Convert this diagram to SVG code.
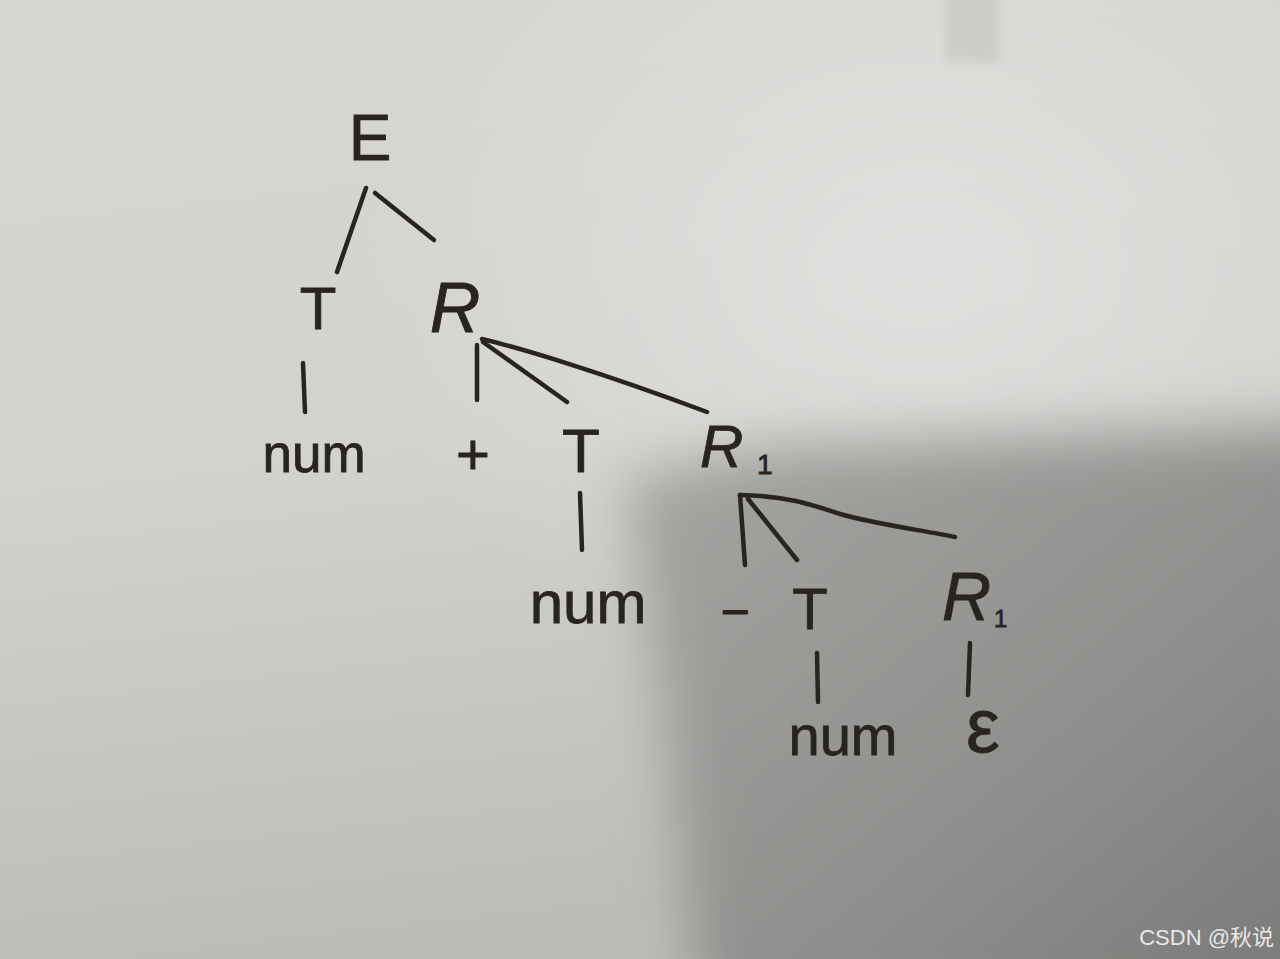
<svg xmlns="http://www.w3.org/2000/svg" width="1280" height="959" viewBox="0 0 1280 959">
<defs>
<style>
.ink{fill:#2a2420;stroke:#2a2420;stroke-width:0.8;font-family:"Liberation Sans",Arial,sans-serif}
.it{font-style:italic}
.edge{stroke:#2a2420;stroke-width:4.5;stroke-linecap:round;fill:none}
.wm{fill:#e8e8e8;font-family:"Liberation Sans","Noto Sans CJK SC",sans-serif;font-size:22px}
</style>
<linearGradient id="bg" x1="0" y1="0" x2="0.15" y2="1">
<stop offset="0" stop-color="#d6d6d3"/>
<stop offset="0.5" stop-color="#d2d2cf"/>
<stop offset="1" stop-color="#bcbcb9"/>
</linearGradient>
<radialGradient id="hl" cx="0.72" cy="0.28" r="0.45">
<stop offset="0" stop-color="#ffffff" stop-opacity="0.3"/>
<stop offset="1" stop-color="#ffffff" stop-opacity="0"/>
</radialGradient>
<linearGradient id="sh" x1="0" y1="0" x2="1" y2="1">
<stop offset="0" stop-color="#a6a6a3"/>
<stop offset="0.6" stop-color="#8e8e8c"/>
<stop offset="1" stop-color="#767675"/>
</linearGradient>
<filter id="blur" x="-20%" y="-20%" width="140%" height="140%"><feGaussianBlur stdDeviation="28"/></filter>
<filter id="blur2"><feGaussianBlur stdDeviation="4"/></filter>
</defs>
<g id="background">
<rect width="1280" height="959" fill="url(#bg)"/>
<rect width="1280" height="959" fill="url(#hl)"/>
<polygon points="625,480 760,448 1340,425 1340,1020 700,1020 665,720" fill="url(#sh)" filter="url(#blur)"/>
<rect x="945" y="-5" width="55" height="67" fill="#bdbdba" opacity="0.45" filter="url(#blur2)"/>
</g>
<g id="connectors">
<line class="edge" x1="366" y1="188" x2="337" y2="272"/>
<line class="edge" x1="375" y1="193" x2="434" y2="240"/>
<line class="edge" x1="303" y1="363" x2="305" y2="412"/>
<line class="edge" x1="477" y1="345" x2="477" y2="400"/>
<line class="edge" x1="483" y1="342" x2="567" y2="402"/>
<path class="edge" d="M482 339 C520 348 600 372 707 412"/>
<line class="edge" x1="580" y1="493" x2="582" y2="550"/>
<line class="edge" x1="740" y1="495" x2="745" y2="565"/>
<line class="edge" x1="748" y1="499" x2="797" y2="560"/>
<path class="edge" d="M740 495 C790 496 815 506 840 514 C870 523 920 530 955 537"/>
<line class="edge" x1="817" y1="653" x2="818" y2="702"/>
<line class="edge" x1="970" y1="643" x2="968" y2="695"/>
</g>
<g id="node-E"><text class="ink" x="370" y="160" font-size="64" text-anchor="middle">E</text></g>
<g id="node-T1"><text class="ink" x="318" y="329" font-size="60" text-anchor="middle">T</text></g>
<g id="node-R"><text class="ink it" x="455" y="332" font-size="70" text-anchor="middle">R</text></g>
<g id="node-num1"><text class="ink" x="314" y="472" font-size="53" text-anchor="middle">num</text></g>
<g id="node-plus"><text class="ink" x="473" y="474" font-size="58" text-anchor="middle">+</text></g>
<g id="node-T2"><text class="ink" x="581" y="472" font-size="62" text-anchor="middle">T</text></g>
<g id="node-R1a"><text class="ink" x="700" y="467" font-size="60"><tspan class="it">R</tspan><tspan x="757" y="474" font-size="28">1</tspan></text></g>
<g id="node-num2"><text class="ink" x="588" y="623" font-size="60" text-anchor="middle">num</text></g>
<g id="node-minus"><text class="ink" x="735" y="629" font-size="50" text-anchor="middle">−</text></g>
<g id="node-T3"><text class="ink" x="810" y="629" font-size="58" text-anchor="middle">T</text></g>
<g id="node-R1b"><text class="ink" x="942" y="620" font-size="68"><tspan class="it">R</tspan><tspan x="994" y="627" font-size="24">1</tspan></text></g>
<g id="node-num3"><text class="ink" x="843" y="755" font-size="56" text-anchor="middle">num</text></g>
<g id="node-eps"><text class="ink" x="983" y="752" font-size="76" text-anchor="middle">ε</text></g>
<g id="watermark"><text class="wm" x="1274" y="945" text-anchor="end">CSDN @秋说</text></g>
</svg>
